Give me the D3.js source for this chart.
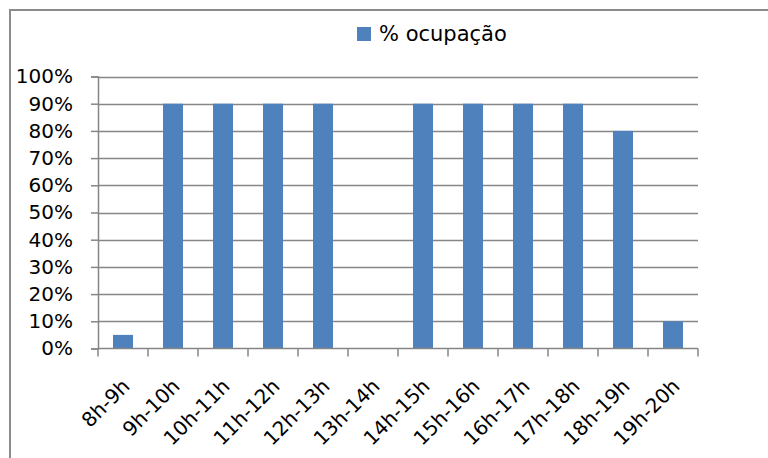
<!DOCTYPE html>
<html>
<head>
<meta charset="utf-8">
<script src="https://cdn.jsdelivr.net/npm/d3@7"></script>
<style>
  body { margin: 0; background: #fff; }
  svg text { font-family: "DejaVu Sans", sans-serif; fill: #000; }
</style>
</head>
<body>
<svg id="chart" width="768" height="458"></svg>
<script>
const categories = ['8h-9h', '9h-10h', '10h-11h', '11h-12h', '12h-13h', '13h-14h',
  '14h-15h', '15h-16h', '16h-17h', '17h-18h', '18h-19h', '19h-20h'];
const ocupacao = [0.05, 0.9, 0.9, 0.9, 0.9, 0, 0.9, 0.9, 0.9, 0.9, 0.8, 0.1];
const yTicks = [0, 0.1, 0.2, 0.3, 0.4, 0.5, 0.6, 0.7, 0.8, 0.9, 1];
const seriesName = '% ocupação';

function drawChart() {
  const svg = d3.select('svg#chart');
  const left = 98, right = 698, top = 76.5, bottom = 348.5;
  const gridColor = '#868686';
  const barColor = '#4f81bd';

  // outer chart frame
  svg.append('rect')
    .attr('x', 10).attr('y', 10)
    .attr('width', 800).attr('height', 500)
    .attr('fill', 'none')
    .attr('stroke', '#8c8c8c')
    .attr('stroke-width', 2);

  const x = d3.scaleBand()
    .domain(categories)
    .range([left, right])
    .paddingInner(0.6)
    .paddingOuter(0.3);

  const y = d3.scaleLinear().domain([0, 1]).range([bottom, top]);

  // gridlines
  svg.append('g')
    .selectAll('line')
    .data(yTicks.slice(1))
    .enter()
    .append('line')
    .attr('x1', left).attr('x2', right)
    .attr('y1', (d) => Math.round(y(d)) + 0.5)
    .attr('y2', (d) => Math.round(y(d)) + 0.5)
    .attr('stroke', gridColor)
    .attr('stroke-width', 1.5);

  // y axis
  const yAxis = svg.append('g')
    .attr('transform', `translate(${left},0)`)
    .call(d3.axisLeft(y).tickValues(yTicks).tickFormat(d3.format('.0%')).tickSize(7).tickPadding(18));
  yAxis.select('.domain').attr('stroke', gridColor).attr('stroke-width', 1.5);
  yAxis.selectAll('.tick line').attr('stroke', gridColor).attr('stroke-width', 1.5);
  yAxis.selectAll('.tick text')
    .attr('font-size', 20)
    .attr('font-family', '"DejaVu Sans", sans-serif')
    .attr('fill', '#000');

  // bars
  svg.append('g')
    .selectAll('rect')
    .data(ocupacao)
    .enter()
    .append('rect')
    .attr('x', (d, i) => x(categories[i]))
    .attr('y', (d) => y(d))
    .attr('width', x.bandwidth())
    .attr('height', (d) => y(0) - y(d))
    .attr('fill', barColor);

  // x axis line and boundary ticks
  const step = x.step();
  const bounds = d3.range(categories.length + 1).map((i) => left + i * step);
  svg.append('line')
    .attr('x1', left).attr('x2', right)
    .attr('y1', bottom).attr('y2', bottom)
    .attr('stroke', gridColor).attr('stroke-width', 1.5);
  svg.append('g')
    .selectAll('line')
    .data(bounds)
    .enter()
    .append('line')
    .attr('x1', (d) => d).attr('x2', (d) => d)
    .attr('y1', bottom).attr('y2', bottom + 8)
    .attr('stroke', gridColor).attr('stroke-width', 1.5);

  // rotated category labels
  svg.append('g')
    .selectAll('text')
    .data(categories)
    .enter()
    .append('text')
    .attr('text-anchor', 'end')
    .attr('font-size', 20)
    .attr('transform', (d) => `translate(${x(d) + x.bandwidth() / 2 + 3},${bottom + 34}) rotate(-45)`)
    .attr('dy', '0.35em')
    .text((d) => d);

  // legend
  const legend = svg.append('g');
  legend.append('rect')
    .attr('x', 357).attr('y', 27)
    .attr('width', 14).attr('height', 14)
    .attr('fill', barColor);
  legend.append('text')
    .attr('x', 379).attr('y', 34)
    .attr('dy', '0.35em')
    .attr('font-size', 21)
    .text(seriesName);
}

window.addEventListener('load', function() {
  drawChart();
});
</script>
</body>
</html>
